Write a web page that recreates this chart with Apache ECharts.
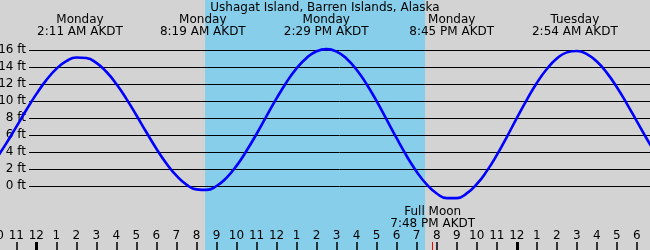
<!DOCTYPE html>
<html><head><meta charset="utf-8">
<script src="https://cdn.jsdelivr.net/npm/echarts@6/dist/echarts.min.js"></script>
<style>html,body{margin:0;padding:0;background:#d3d3d3}#c{width:650px;height:250px}</style>
</head><body><div id="c"></div>
<script>
// Data (hours since Monday 00:00 AKDT, tide height in ft, every half hour)
const chartTitle = "Ushagat Island, Barren Islands, Alaska";
const times   = [-2, -1.5, -1, -0.5, 0, 0.5, 1, 1.5, 2, 2.5, 3, 3.5, 4, 4.5, 5, 5.5, 6, 6.5, 7, 7.5, 8, 8.5, 9, 9.5, 10, 10.5, 11, 11.5, 12, 12.5, 13, 13.5, 14, 14.5, 15, 15.5, 16, 16.5, 17, 17.5, 18, 18.5, 19, 19.5, 20, 20.5, 21, 21.5, 22, 22.5, 23, 23.5, 24, 24.5, 25, 25.5, 26, 26.5, 27, 27.5, 28, 28.5, 29, 29.5, 30, 30.5, 31];
const heights = [3.21, 5.01, 6.96, 8.94, 10.81, 12.46, 13.78, 14.68, 15.12, 15.05, 14.48, 13.44, 12.0, 10.25, 8.32, 6.32, 4.39, 2.65, 1.21, 0.17, -0.40, -0.46, 0.0, 0.96, 2.37, 4.14, 6.12, 8.22, 10.30, 12.21, 13.84, 15.07, 15.85, 16.1, 15.81, 14.98, 13.68, 11.97, 9.98, 7.81, 5.62, 3.53, 1.68, 0.18, -0.88, -1.43, -1.43, -0.87, 0.21, 1.75, 3.63, 5.76, 7.98, 10.14, 12.12, 13.76, 14.99, 15.72, 15.89, 15.52, 14.64, 13.31, 11.62, 9.67, 7.60, 5.53, 3.6];
const hourTicks  = [-2, -1, 0, 1, 2, 3, 4, 5, 6, 7, 8, 9, 10, 11, 12, 13, 14, 15, 16, 17, 18, 19, 20, 21, 22, 23, 24, 25, 26, 27, 28, 29, 30, 31];
const hourLabels = ["10", "11", "12", "1", "2", "3", "4", "5", "6", "7", "8", "9", "10", "11", "12", "1", "2", "3", "4", "5", "6", "7", "8", "9", "10", "11", "12", "1", "2", "3", "4", "5", "6", "7"];
const tickHours  = [-1, 1, 2, 3, 4, 5, 6, 7, 8, 9, 10, 11, 12, 13, 14, 15, 16, 17, 18, 19, 20, 21, 22, 23, 25, 26, 27, 28, 29, 30];
const midnightTicks = [0, 24];
const extremeTimes  = [2.183, 8.317, 14.483, 20.75, 26.9];
const extremeLabels = ["Monday\n2:11 AM AKDT", "Monday\n8:19 AM AKDT", "Monday\n2:29 PM AKDT", "Monday\n8:45 PM AKDT", "Tuesday\n2:54 AM AKDT"];
const moonTimes  = [19.8];
const moonLabels = ["Full Moon\n7:48 PM AKDT"];
const daylight = [8.43, 19.42];
const xRange = [-1.813, 30.654];
const yRangeFull = [-7.529, 21.882];
const ftRange = [0, 16];
const ftStep = 2;

const FONT = "DejaVu Sans";
const W = 650;
const pxPerHour = W / (xRange[1] - xRange[0]);
const hourGridLeft = (hourTicks[0] - xRange[0]) * pxPerHour;
const hourGridRight = W - (hourTicks[hourTicks.length - 1] - xRange[0]) * pxPerHour;
const chart = echarts.init(document.getElementById('c'), null, {renderer: 'canvas'});
const fullGrid = {left: 0, right: 0, top: 0, bottom: 0, outerBoundsMode: 'none'};
const baseX = {type: 'value', min: xRange[0], max: xRange[1], position: 'bottom', z: 5,
  axisLine: {show: false, onZero: false}, splitLine: {show: false}};
const hourX = {type: 'value', position: 'bottom', z: 4,
  min: hourTicks[0], max: hourTicks[hourTicks.length - 1], interval: 1,
  axisLine: {show: false, onZero: false}, splitLine: {show: false}};
const hiddenY = g => ({gridIndex: g, type: 'value', min: yRangeFull[0], max: yRangeFull[1], show: false, splitLine: {show: false}});
chart.setOption({
  backgroundColor: '#d3d3d3',
  animation: false,
  textStyle: {fontFamily: FONT, fontSize: 12, color: '#000'},
  title: {text: chartTitle, left: 'center', top: -3,
    textStyle: {fontFamily: FONT, fontSize: 12, fontWeight: 'normal', color: '#000'}},
  grid: [
    fullGrid,
    {left: 29, right: 0, top: 50, height: 136, outerBoundsMode: 'none'},
    fullGrid,
    fullGrid,
    fullGrid,
    {left: hourGridLeft, right: hourGridRight, top: 0, bottom: 0, outerBoundsMode: 'none'}
  ],
  xAxis: [
    Object.assign({}, baseX, {gridIndex: 0, show: false}),
    Object.assign({}, baseX, {gridIndex: 0, position: 'top',
      axisTick: {show: false},
      axisLabel: {show: true, inside: true, margin: 14, customValues: extremeTimes, fontFamily: FONT, fontSize: 12, color: '#000', lineHeight: 12,
        formatter: v => { let i = 0, d = 1e9; extremeTimes.forEach((t, k) => { if (Math.abs(t - v) < d) { d = Math.abs(t - v); i = k; } }); return extremeLabels[i]; }}
    }),
    {gridIndex: 1, type: 'value', min: 0, max: 1, show: false},
    Object.assign({}, baseX, {gridIndex: 2,
      axisTick: {show: true, inside: true, length: 8, customValues: midnightTicks, lineStyle: {color: '#000', width: 3}},
      axisLabel: {show: false}
    }),
    Object.assign({}, baseX, {gridIndex: 3,
      axisTick: {show: true, inside: true, length: 8, customValues: moonTimes, lineStyle: {color: '#ff0000', width: 1}},
      axisLabel: {show: true, inside: true, margin: 20, customValues: moonTimes, fontFamily: FONT, fontSize: 12, color: '#000', lineHeight: 12,
        formatter: v => moonLabels[0]}
    }),
    Object.assign({}, baseX, {gridIndex: 4,
      axisTick: {show: true, inside: true, length: 8, customValues: tickHours, lineStyle: {color: '#000', width: 1.5}},
      axisLabel: {show: false}
    }),
    Object.assign({}, hourX, {gridIndex: 5,
      axisTick: {show: false},
      axisLabel: {show: true, inside: true, margin: 8, showMinLabel: true, showMaxLabel: true, hideOverlap: false,
        fontFamily: FONT, fontSize: 12, color: '#000',
        formatter: v => hourLabels[hourTicks.indexOf(Math.round(v))]}
    })
  ],
  yAxis: [
    hiddenY(0),
    {gridIndex: 1, type: 'value', min: ftRange[0], max: ftRange[1], interval: ftStep, z: 2,
      axisLine: {show: false}, axisTick: {show: false},
      axisLabel: {margin: 3, fontFamily: FONT, fontSize: 12, color: '#000', formatter: '{value} ft'},
      splitLine: {show: true, lineStyle: {color: '#000', width: 1}}},
    hiddenY(2), hiddenY(3), hiddenY(4), hiddenY(5)
  ],
  series: [{
    type: 'line', xAxisIndex: 0, yAxisIndex: 0, z: 3,
    data: times.map((t, i) => [t, heights[i]]),
    smooth: true, showSymbol: false, symbol: 'none',
    lineStyle: {color: '#0000ff', width: 2.6},
    markArea: {silent: true, z: 1, itemStyle: {color: '#87ceeb', opacity: 1},
      data: [[{xAxis: daylight[0]}, {xAxis: daylight[1]}]]}
  }]
});
</script></body></html>
